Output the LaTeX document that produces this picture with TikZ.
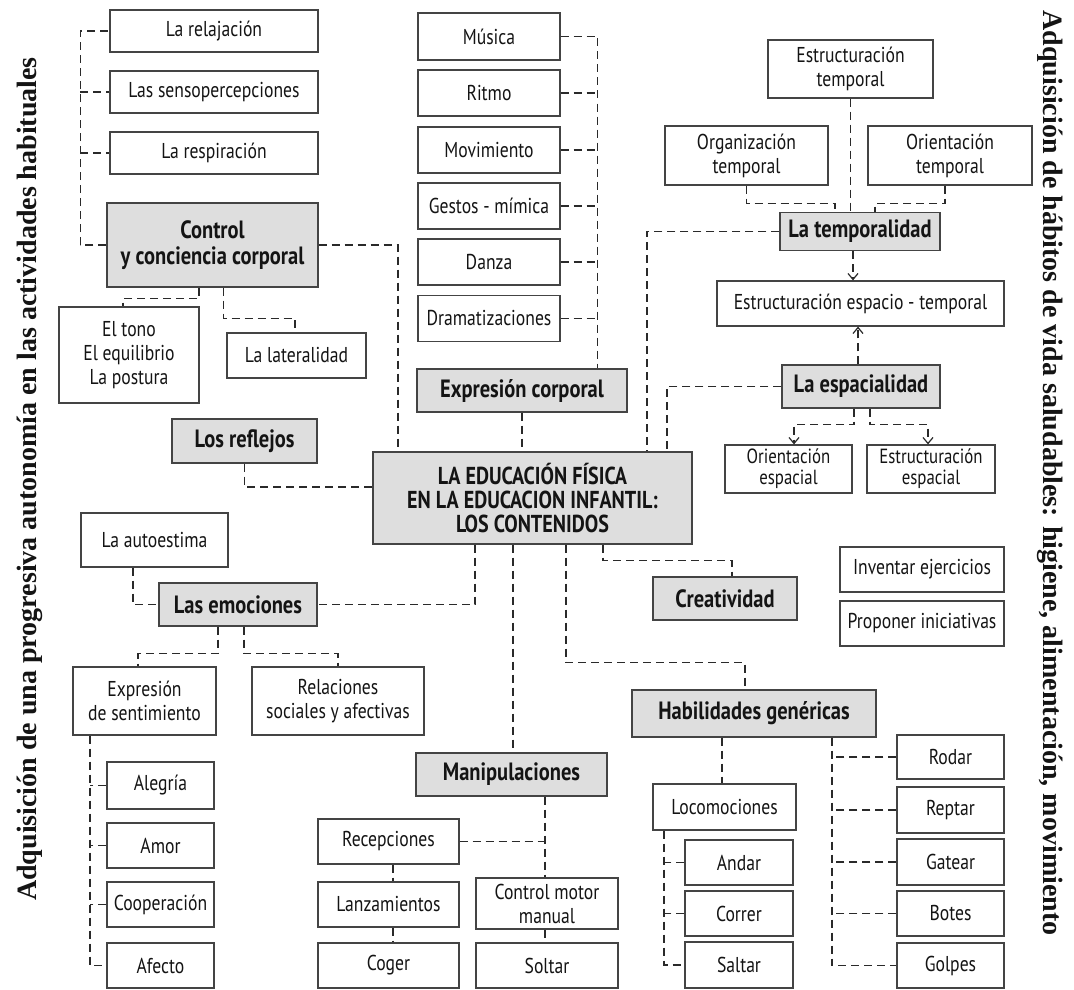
\documentclass[tikz,border=0pt]{standalone}
\usepackage{fontspec}
\setmainfont{PT Sans}[FakeStretch=0.82]
\newfontfamily\sidefont{Liberation Serif}
\usetikzlibrary{arrows.meta}
\definecolor{boxc}{HTML}{444444}
\definecolor{grayf}{HTML}{DEDEDE}
\definecolor{linec}{HTML}{2A2A2A}
\definecolor{txtc}{HTML}{141414}
\tikzset{
  wbox/.style={draw=boxc, line width=1.2pt, fill=white, align=center, inner sep=0pt, text=txtc, font=\fontsize{21.5}{24}\selectfont},
  gbox/.style={wbox, fill=grayf, line width=1.4pt, font=\bfseries\fontsize{25}{26}\selectfont},
  sz/.style 2 args={minimum width=#1pt, minimum height=#2pt},
  dl/.style={draw=linec, line width=1.5pt, dash pattern=on 8pt off 5pt},
  arr/.style={dl, -{Straight Barb[length=6pt,width=10pt,line width=1.2pt]}},
  side/.style={inner sep=0pt, text=txtc, font=\sidefont\bfseries\fontsize{28}{30}\selectfont}
}
\begin{document}
\begin{tikzpicture}[x=1pt,y=-1pt]
\useasboundingbox (0,0) rectangle (1074,990);
% side texts
\node[side, rotate=90] (lside) at (30,479) {Adquisición de una progresiva autonomía en las actividades habituales};
\node[side, rotate=-90] (rside) at (1050,473) {Adquisición de hábitos de vida saludables: higiene, alimentación, movimiento};
% control block
\node[wbox, sz={208}{42}] (relaj) at (214,31) {La relajación};
\node[wbox, sz={208}{42}] (senso) at (214,92) {Las sensopercepciones};
\node[wbox, sz={208}{42}] (resp) at (214,153) {La respiración};
\node[gbox, sz={211}{84}] (ctrl) at (212.5,245) {Control\\y conciencia corporal};
\node[wbox, sz={140}{96}] (tono) at (129,355) {El tono\\El equilibrio\\La postura};
\node[wbox, sz={139}{45}] (later) at (296.5,355.5) {La lateralidad};
\node[gbox, sz={145}{44}] (reflejos) at (244.5,441) {Los reflejos};
% music column
\node[wbox, sz={142}{47}] (musica) at (489,36.5) {Música};
\node[wbox, sz={142}{46}] (ritmo) at (489,93) {Ritmo};
\node[wbox, sz={142}{46}] (movim) at (489,150) {Movimiento};
\node[wbox, sz={142}{46}] (gestos) at (489,206) {Gestos - mímica};
\node[wbox, sz={142}{46}] (danza) at (489,262) {Danza};
\node[wbox, sz={142}{46}] (drama) at (489,318.5) {Dramatizaciones};
\node[gbox, sz={210}{43}] (expcorp) at (522,390.5) {Expresión corporal};
% center
\node[gbox, sz={319}{92}, font=\bfseries\fontsize{24.5}{24}\selectfont] (center) at (532.5,498) {LA EDUCACIÓN FÍSICA\\EN LA EDUCACION INFANTIL:\\LOS CONTENIDOS};
% time / space
\node[wbox, sz={165}{58}] (esttemp) at (850.5,69) {Estructuración\\temporal};
\node[wbox, sz={163}{59}] (orgtemp) at (746.5,155.5) {Organización\\temporal};
\node[wbox, sz={164}{59}] (oritemp) at (950,155.5) {Orientación\\temporal};
\node[gbox, sz={160}{38}] (tempor) at (860,231.5) {La temporalidad};
\node[wbox, sz={287}{45}] (estet) at (860.5,303.5) {Estructuración espacio - temporal};
\node[gbox, sz={158}{43}] (espac) at (861,386.5) {La espacialidad};
\node[wbox, sz={127}{48}, font=\fontsize{20.5}{21}\selectfont] (oriesp) at (788.5,469) {Orientación\\espacial};
\node[wbox, sz={128}{48}, font=\fontsize{20.5}{21}\selectfont] (estesp) at (931,469) {Estructuración\\espacial};
\node[gbox, sz={144}{43}] (creat) at (725,598.5) {Creatividad};
\node[wbox, sz={164}{45}] (inventar) at (922,569.5) {Inventar ejercicios};
\node[wbox, sz={164}{45}] (proponer) at (922,623.5) {Proponer iniciativas};
% emotions
\node[wbox, sz={147}{54}] (autoest) at (154.5,540) {La autoestima};
\node[gbox, sz={158}{43}] (emoc) at (238,604.5) {Las emociones};
\node[wbox, sz={143}{68}] (expsent) at (144.5,701) {Expresión\\de sentimiento};
\node[wbox, sz={172}{68}] (relac) at (338,701) {Relaciones\\sociales y afectivas};
\node[wbox, sz={107}{47}] (alegria) at (160.5,785.5) {Alegría};
\node[wbox, sz={107}{45}] (amor) at (160.5,845.5) {Amor};
\node[wbox, sz={107}{45}] (coop) at (160.5,904.5) {Cooperación};
\node[wbox, sz={107}{45}] (afecto) at (160.5,965.5) {Afecto};
% manipulation
\node[gbox, sz={191}{43}] (manip) at (511.5,774.5) {Manipulaciones};
\node[wbox, sz={141}{45}] (recep) at (388.5,841.5) {Recepciones};
\node[wbox, sz={141}{45}] (lanz) at (388.5,904.5) {Lanzamientos};
\node[wbox, sz={141}{45}] (coger) at (388.5,965.5) {Coger};
\node[wbox, sz={142}{51}] (cmm) at (547,903.5) {Control motor\\manual};
\node[wbox, sz={142}{45}] (soltar) at (547,965.5) {Soltar};
% skills
\node[gbox, sz={244}{47}] (habil) at (754,713.5) {Habilidades genéricas};
\node[wbox, sz={143}{46}] (locom) at (724.5,807) {Locomociones};
\node[wbox, sz={108}{45}] (andar) at (739,862.5) {Andar};
\node[wbox, sz={108}{45}] (correr) at (739,913.5) {Correr};
\node[wbox, sz={108}{46}] (saltar) at (739,965) {Saltar};
\node[wbox, sz={107}{44}] (rodar) at (950.5,757) {Rodar};
\node[wbox, sz={107}{46}] (reptar) at (950.5,810) {Reptar};
\node[wbox, sz={107}{46}] (gatear) at (950.5,862) {Gatear};
\node[wbox, sz={107}{45}] (botes) at (950.5,913.5) {Botes};
\node[wbox, sz={107}{45}] (golpes) at (950.5,965.5) {Golpes};

% ---------- connectors ----------
% control bracket
\draw[dl] (ctrl.west) -- ++(-26,0) coordinate (lb) |- (relaj.west);
\draw[dl] (lb |- senso.west) -- (senso.west);
\draw[dl] (lb |- resp.west) -- (resp.west);
\draw[dl] (ctrl.east) -| ([xshift=-134.5pt]center.north);
\draw[dl] ([xshift=-13.5pt]ctrl.south) -- ++(0,11) -| ([xshift=-6pt]tono.north);
\draw[dl] ([xshift=11pt]ctrl.south) -- ++(0,31) -| ([xshift=-1.5pt]later.north);
\draw[dl] (reflejos.south) |- ([yshift=11pt]center.west);
% music bracket
\draw[dl] (musica.east) -- ++(37,0) coordinate (mb) -- (mb |- expcorp.north);
\foreach \n in {ritmo,movim,gestos,danza,drama}{\draw[dl] (\n.east) -- (mb |- \n.east);}
\draw[dl] (expcorp.south) -- (expcorp.south |- center.north);
% time
\draw[dl] (esttemp.south) -- (esttemp.south |- tempor.north);
\draw[dl] (orgtemp.south) -- ++(0,18) -| ([xshift=-25pt]tempor.north);
\draw[dl] ([xshift=-5pt]oritemp.south) -- ++(0,18) -| ([xshift=15pt]tempor.north);
\draw[dl] (tempor.west) -| ([xshift=114.5pt]center.north);
\draw[arr] ([xshift=-7pt]tempor.south) -- ([xshift=-7pt]tempor.south |- estet.north);
\draw[arr] ([xshift=-3pt]espac.north) -- ([xshift=-3pt]espac.north |- estet.south);
\draw[dl] (espac.west) -| ([xshift=134.5pt]center.north);
\draw[arr] ([xshift=-7pt]espac.south) -- ++(0,16) -| ([xshift=5.5pt]oriesp.north);
\draw[arr] ([xshift=9pt]espac.south) -- ++(0,16) -| ([xshift=-3pt]estesp.north);
% creativity
\draw[dl] ([xshift=70.5pt]center.south) -- ++(0,16) -| ([xshift=7pt]creat.north);
% emotions
\draw[dl] ([xshift=-57.5pt]center.south) |- (emoc.east);
\draw[dl] ([xshift=-21.5pt]autoest.south) |- (emoc.west);
\draw[dl] ([xshift=-20pt]emoc.south) -- ++(0,27) -| ([xshift=-6.5pt]expsent.north);
\draw[dl] ([xshift=6pt]emoc.south) -- ++(0,27) -| (relac.north);
\coordinate (eb) at ([xshift=-54.5pt]expsent.south);
\draw[dl] (eb) |- (afecto.west);
\foreach \n in {alegria,amor,coop}{\draw[dl] (\n.west) -- (eb |- \n.west);}
% manipulation
\draw[dl] ([xshift=-19.5pt]center.south) -- ([xshift=-19.5pt]center.south |- manip.north);
\coordinate (mv) at ([xshift=33.5pt]manip.south);
\draw[dl] (mv) -- (mv |- cmm.north);
\draw[dl] (recep.east) -- (mv |- recep.east);
\draw[dl] ([xshift=4.5pt]recep.south) -- ([xshift=4.5pt]lanz.north);
\draw[dl] ([xshift=4.5pt]lanz.south) -- ([xshift=4.5pt]coger.north);
\draw[dl] ([xshift=-2pt]cmm.south) -- ([xshift=-2pt]soltar.north);
% skills
\draw[dl] ([xshift=33.5pt]center.south) -- ++(0,118) -| ([xshift=-9pt]habil.north);
\draw[dl] ([xshift=-32pt]habil.south) -- ([xshift=-32pt]habil.south |- locom.north);
\coordinate (lv) at ([xshift=-60.5pt]locom.south);
\draw[dl] (lv) |- (saltar.west);
\foreach \n in {andar,correr}{\draw[dl] (\n.west) -- (lv |- \n.west);}
\coordinate (hv) at ([xshift=78pt]habil.south);
\draw[dl] (hv) |- (golpes.west);
\foreach \n in {rodar,reptar,gatear,botes}{\draw[dl] (\n.west) -- (hv |- \n.west);}
\end{tikzpicture}
\end{document}
